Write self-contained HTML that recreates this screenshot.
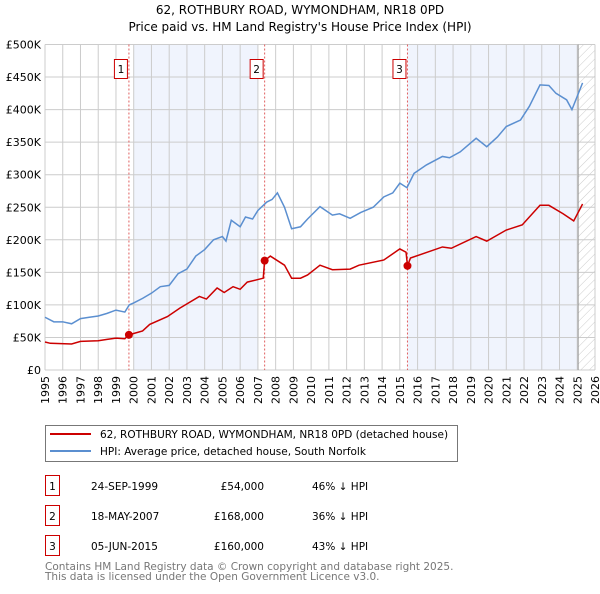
<!DOCTYPE html>
<html><head><meta charset="utf-8"><style>
body{margin:0;background:#fff;width:600px;height:590px;overflow:hidden;font-family:"DejaVu Sans","Liberation Sans",sans-serif}
text{font-family:"DejaVu Sans","Liberation Sans",sans-serif}
</style></head><body>
<svg id="chart" width="600" height="590" viewBox="0 0 600 590" xmlns="http://www.w3.org/2000/svg">
<text x="300" y="14" text-anchor="middle" font-size="12">62, ROTHBURY ROAD, WYMONDHAM, NR18 0PD</text>
<text x="300" y="31" text-anchor="middle" font-size="12">Price paid vs. HM Land Registry's House Price Index (HPI)</text>
<g id="plot"></g>
<g>
<rect x="45.5" y="425.5" width="412" height="36" fill="#fff" stroke="#777"/>
<line x1="50" y1="434" x2="91" y2="434" stroke="#cc0000" stroke-width="2"/>
<text x="100" y="438" font-size="10.5">62, ROTHBURY ROAD, WYMONDHAM, NR18 0PD (detached house)</text>
<line x1="50" y1="451" x2="91" y2="451" stroke="#5b8fd0" stroke-width="2"/>
<text x="100" y="455" font-size="10.5">HPI: Average price, detached house, South Norfolk</text>
</g>
<g font-size="10.5">
<rect x="45.5" y="475.5" width="14" height="20" fill="none" stroke="#cc0000"/><text x="52.5" y="490" text-anchor="middle">1</text>
<text x="91" y="490">24-SEP-1999</text><text x="264" y="490" text-anchor="end">£54,000</text><text x="312" y="490">46% ↓ HPI</text>
<rect x="45.5" y="505.5" width="14" height="20" fill="none" stroke="#cc0000"/><text x="52.5" y="520" text-anchor="middle">2</text>
<text x="91" y="520">18-MAY-2007</text><text x="264" y="520" text-anchor="end">£168,000</text><text x="312" y="520">36% ↓ HPI</text>
<rect x="45.5" y="535.5" width="14" height="20" fill="none" stroke="#cc0000"/><text x="52.5" y="550" text-anchor="middle">3</text>
<text x="91" y="550">05-JUN-2015</text><text x="264" y="550" text-anchor="end">£160,000</text><text x="312" y="550">43% ↓ HPI</text>
</g>
<text x="45" y="570" font-size="10.5" fill="#777">Contains HM Land Registry data © Crown copyright and database right 2025.</text>
<text x="45" y="580" font-size="10.5" fill="#777">This data is licensed under the Open Government Licence v3.0.</text>
</svg>
<script>
const hpiYears=[1995,1995.5,1996,1996.5,1997,1997.5,1998,1998.5,1999,1999.5,1999.75,2000,2000.5,2001,2001.5,2002,2002.5,2003,2003.5,2004,2004.5,2005,2005.2,2005.5,2006,2006.3,2006.7,2007,2007.5,2007.8,2008.1,2008.5,2008.9,2009.4,2009.8,2010.5,2011.2,2011.6,2012.2,2012.8,2013.5,2014.1,2014.6,2015.0,2015.4,2015.8,2016.5,2017.4,2017.8,2018.4,2019.3,2019.9,2020.5,2021.0,2021.8,2022.3,2022.9,2023.4,2023.8,2024.4,2024.7,2025.3];
const hpiValues=[81,74,74,71,79,81,83,87,92,89,100,103,110,118,128,130,148,155,175,185,200,205,198,230,220,235,232,245,258,262,272,250,217,220,232,251,238,240,233,242,250,266,272,287,280,302,315,328,326,335,356,343,358,374,384,405,438,437,425,415,400,441];
const propYears=[1995,1995.3,1996.5,1997,1998,1998.5,1999,1999.5,1999.73,2000.5,2000.9,2001.9,2002.6,2003.7,2004.1,2004.7,2005.1,2005.6,2006.0,2006.4,2007.3,2007.38,2007.7,2008.5,2008.9,2009.4,2009.8,2010.5,2011.2,2012.2,2012.7,2014.1,2015.0,2015.35,2015.43,2015.6,2017.4,2017.9,2019.3,2019.9,2021.0,2021.9,2022.9,2023.4,2024.2,2024.8,2025.3];
const propValues=[43,41,40,44,45,47,49,48,54,60,70,82,95,113,109,126,119,128,124,135,141,168,175,161,141,141,146,161,154,155,161,169,186,181,160,172,189,187,205,198,215,223,253,253,240,229,255];
const saleYears=[1999.73,2007.38,2015.43];
const saleValues=[54,168,160];
const saleLabels=["1","2","3"];
const yTicks=[0,50,100,150,200,250,300,350,400,450,500];
const yTickLabels=["£0","£50K","£100K","£150K","£200K","£250K","£300K","£350K","£400K","£450K","£500K"];
const xTicks=[1995,1996,1997,1998,1999,2000,2001,2002,2003,2004,2005,2006,2007,2008,2009,2010,2011,2012,2013,2014,2015,2016,2017,2018,2019,2020,2021,2022,2023,2024,2025,2026];
const shadeRanges=[[2000,2007.0],[2015.43,2025.05]];
const dataEnd=2025.05;

const X0=45,X1=595,Y0=370,Y1=44.5;
const xs=y=>X0+(y-1995)/(2026-1995)*(X1-X0);
const ys=v=>Y0-v/500*(Y0-Y1);
const NS="http://www.w3.org/2000/svg";
const g=document.getElementById('plot');
function mk(t,a,p){const e=document.createElementNS(NS,t);for(const k in a)e.setAttribute(k,a[k]);(p||g).appendChild(e);return e;}
const defs=mk('defs',{});
const pat=mk('pattern',{id:'hatch',width:6,height:6,patternUnits:'userSpaceOnUse',patternTransform:'rotate(45)'},defs);
mk('line',{x1:0,y1:0,x2:0,y2:6,stroke:'#ccc','stroke-width':1},pat);
shadeRanges.forEach(r=>{const e=mk('rect',{x:xs(r[0]),y:Y1,width:xs(r[1])-xs(r[0]),height:Y0-Y1,fill:'#f0f4fd'});

});
const h=mk('rect',{x:xs(dataEnd),y:Y1,width:X1-xs(dataEnd),height:Y0-Y1,fill:'url(#hatch)'});


xTicks.forEach(t=>{const l=mk('line',{x1:xs(t),x2:xs(t),y1:Y1,y2:Y0,stroke:'#ccc'});


const px=xs(t)+4,py=Y0+6;
const tx=mk('text',{x:px,y:py,'text-anchor':'end','font-size':'11',transform:'rotate(-90 '+px+' '+py+')'});tx.textContent=t;

});
yTicks.forEach((t,i)=>{const l=mk('line',{x1:X0,x2:X1,y1:ys(t),y2:ys(t),stroke:'#ccc'});


const tx=mk('text',{x:X0-4,y:ys(t)+4,'text-anchor':'end','font-size':'11'});tx.textContent=yTickLabels[i];

});
const el=mk('line',{x1:xs(dataEnd),x2:xs(dataEnd),y1:Y1,y2:Y0,stroke:'#999'});


saleYears.forEach((y,i)=>{const l=mk('line',{x1:xs(y),x2:xs(y),y1:Y1,y2:Y0,stroke:'#e06060','stroke-dasharray':'2,2'});


const r=mk('rect',{x:xs(y)-14.5,y:59.5,width:13,height:19,fill:'#fff',stroke:'#cc0000'});


const t=mk('text',{x:xs(y)-8,y:73,'text-anchor':'middle','font-size':'10.5'});t.textContent=saleLabels[i];

});
const hp=mk('polyline',{points:hpiYears.map((y,i)=>xs(y)+','+ys(hpiValues[i])).join(' '),fill:'none',stroke:'#5b8fd0','stroke-width':1.5});


const pp=mk('polyline',{points:propYears.map((y,i)=>xs(y)+','+ys(propValues[i])).join(' '),fill:'none',stroke:'#cc0000','stroke-width':1.5});


saleYears.forEach((y,i)=>{const c=mk('circle',{cx:xs(y),cy:ys(saleValues[i]),r:4,fill:'#cc0000'});

});
</script>
</body></html>
